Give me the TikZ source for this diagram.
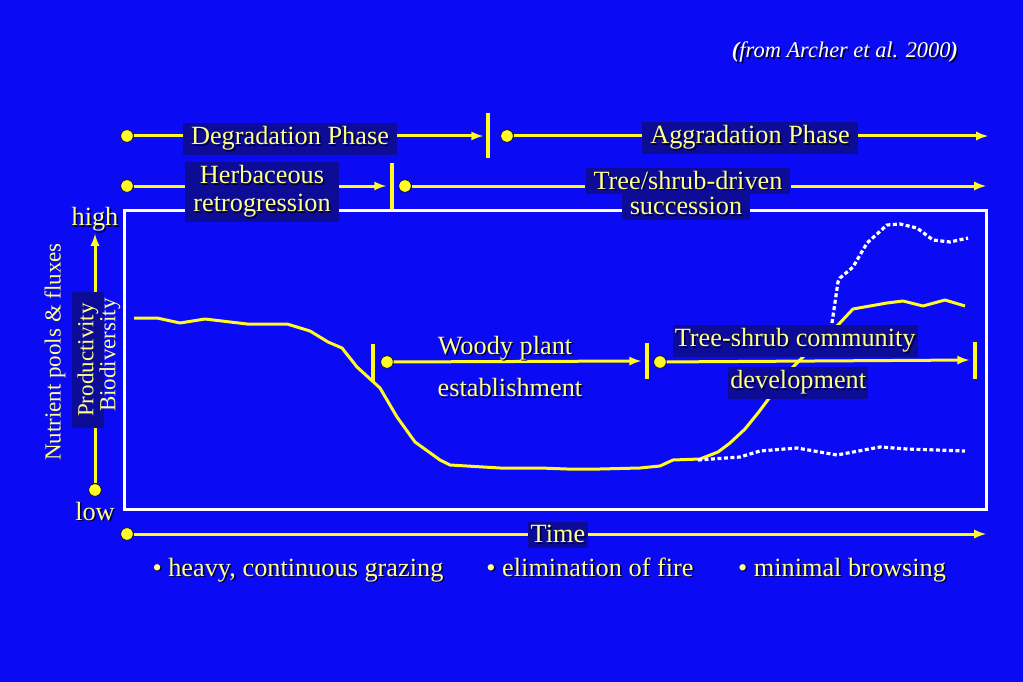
\documentclass[tikz,border=0pt]{standalone}
\usepackage{fontspec}
\setmainfont{Liberation Serif}
\usetikzlibrary{arrows}
\usetikzlibrary{positioning}
\definecolor{bgblue}{RGB}{10,10,245}
\definecolor{boxblue}{RGB}{12,12,150}
\definecolor{lineyellow}{RGB}{255,250,40}
\definecolor{textyellow}{RGB}{255,255,140}
\definecolor{shadowc}{RGB}{0,0,60}
\newcommand{\shd}[1]{\makebox[0pt][l]{\hspace{1.6pt}\raisebox{-1.6pt}{\textcolor{shadowc}{#1}}}#1}
\newcommand{\bigfont}{\fontsize{26.3}{28}\selectfont}
\newcommand{\axfont}{\fontsize{23}{26}\selectfont}

\begin{document}
\begin{tikzpicture}[x=1pt,y=-1pt,
	yline/.style={draw=lineyellow,line width=3pt,>=latex},
	dot/.style={circle,fill=lineyellow,draw=black,line width=0.6pt,minimum size=12.5pt,inner sep=0pt},
	bar/.style={fill=lineyellow,minimum width=3.2pt,minimum height=45pt,inner sep=0pt},
	lbl/.style={fill=boxblue,text=textyellow,font=\bigfont,inner xsep=8pt,inner ysep=3pt,align=center},
	plain/.style={text=textyellow,font=\bigfont,inner sep=1pt},
	curve/.style={draw=lineyellow,line width=3pt,line join=round},
	dots/.style={draw=white,line width=3.2pt,dash pattern=on 4pt off 2.5pt}]
	\fill[bgblue] (0,0) rectangle (1023,682);
	\node[text=white,font=\fontsize{22.4}{25}\selectfont\itshape] (src) at (845,53) {\shd{\textbf{(}from Archer et al. 2000\textbf{)}}};
	% plot area and response curves
	\draw[white,line width=3pt] (124,210) rectangle (986,509);
	\draw[curve] plot coordinates {(134,318) (157,318) (180,323) (205,319) (247,324) (287,324) (310,331) (328,342) (342,348) (357,367) (380,388) (397,417) (415,442) (440,460) (450,465) (500,468) (540,468) (567,469) (600,469) (640,468) (660,466) (673,460) (700,459) (718,452) (730,443) (745,429) (758,413) (770,397) (790,370) (815,345) (838,325) (853,309) (887,303) (903,301) (923,306) (945,300) (965,306)};
	\draw[dots] plot coordinates {(832,323) (838,282) (840,278) (853,267) (867,243) (887,225) (900,224) (917,228) (933,240) (950,242) (968,238)};
	\draw[dots] plot coordinates {(698,460) (740,457) (760,451) (797,448) (837,455) (880,447) (907,449) (965,451)};
	% phases
	\node[dot] (dg) at (127,136) {};
	\node[lbl] (degr) at (290,139) {\shd{Degradation Phase}};
	\node[bar] (bar1) at (488,136) {};
	\draw[yline] (dg) -- (dg -| degr.west);
	\draw[yline,->] (degr.east |- dg) -- ([xshift=-3pt]bar1.west);
	\node[dot] (ag) at (507,136) {};
	\node[lbl] (aggr) at (750,138) {\shd{Aggradation Phase}};
	\coordinate (end1) at (988,136);
	\draw[yline] (ag) -- (ag -| aggr.west);
	\draw[yline,->] (aggr.east |- ag) -- (end1);
	\node[dot] (hb) at (127,186) {};
	\node[lbl] (herb) at (262,192) {\shd{Herbaceous}\\\shd{retrogression}};
	\node[bar] (bar2) at (392,186) {};
	\draw[yline] (hb) -- (hb -| herb.west);
	\draw[yline,->] (herb.east |- hb) -- ([xshift=-4pt]bar2.west);
	\node[dot] (ts) at (405,186) {};
	\node[lbl] (tree) at (688,181) {\shd{Tree/shrub-driven}};
	\node[lbl] (succ) at (686,207) {\shd{succession}};
	\coordinate (end2) at (986,186);
	\draw[yline] (ts) -- (ts -| tree.west);
	\draw[yline,->] (tree.east |- ts) -- (end2);
	% y axis
	\node[plain] (high) at (95,220) {\shd{high}};
	\node[plain] (low) at (95,512) {\shd{low}};
	\node[dot] (lo) at (95,490) {};
	\draw[yline,->] (lo) -- (high.south);
	\node[lbl,rotate=90,font=\axfont,inner xsep=11pt,inner ysep=6pt] (prod) at (88,360) {Productivity};
	\node[plain,rotate=90,font=\axfont] (bio) at (110,355) {Biodiversity};
	\node[plain,rotate=90,font=\axfont] (nut) at (55,352) {Nutrient pools \& fluxes};
	% woody plants
	\node[bar,minimum height=37pt] (bar3) at (373,362) {};
	\node[dot] (wd) at (387,362) {};
	\node[bar,minimum height=36pt] (bar4) at (647,361) {};
	\draw[yline,->] (wd) -- node[plain,pos=0.45,yshift=13pt] (woody) {\shd{Woody plant}} node[plain,pos=0.47,yshift=-27pt] (estab) {\shd{establishment}} ([xshift=-4pt]bar4.west);
	\node[dot] (td) at (660,362) {};
	\node[bar,minimum height=37pt] (bar5) at (975,360) {};
	\draw[yline,->] (td) -- node[lbl,inner xsep=2pt,pos=0.425,yshift=20pt] (tsc) {\shd{Tree-shrub community}} node[lbl,inner xsep=2pt,pos=0.435,yshift=-22pt] (dev) {\shd{development}} ([xshift=-4pt]bar5.west);
	% time axis
	\node[dot] (tm) at (127,534) {};
	\node[lbl,inner xsep=3pt] (time) at (558,535) {\shd{Time}};
	\coordinate (end3) at (986,534);
	\draw[yline] (tm) -- (tm -| time.west);
	\draw[yline,->] (time.east |- tm) -- (end3);
	\node[plain,anchor=base] (graz) at (298,576) {\shd{\textbullet\ heavy, continuous grazing}};
	\node[plain,anchor=base] (fire) at (590,576) {\shd{\textbullet\ elimination of fire}};
	\node[plain,anchor=base] (brow) at (842,576) {\shd{\textbullet\ minimal browsing}};
\end{tikzpicture}
\end{document}
